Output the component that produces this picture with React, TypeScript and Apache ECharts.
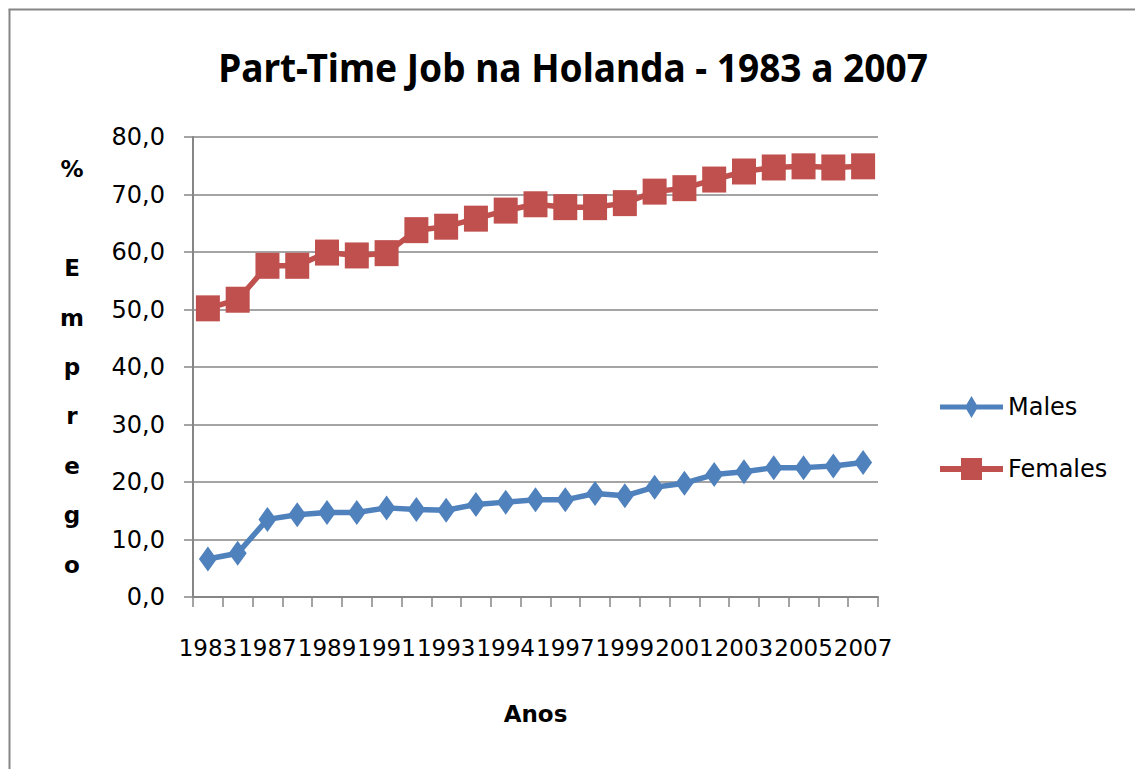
import React, { useEffect, useRef } from "react";
import * as echarts from "echarts";

const titleText = "Part-Time Job na Holanda - 1983 a 2007";
const years = ["1983","1985","1987","1988","1989","1990","1991","1992","1993","1994","1994","1996","1997","1998","1999","2000","2001","2002","2003","2004","2005","2006","2007"];
const males = [6.6,7.6,13.5,14.3,14.7,14.7,15.5,15.2,15.1,16.1,16.5,16.9,16.9,18.0,17.6,19.1,19.8,21.3,21.8,22.5,22.5,22.8,23.4];
const females = [50.2,51.7,57.6,57.6,59.9,59.4,59.8,63.8,64.4,65.8,67.2,68.3,67.8,67.8,68.5,70.5,71.1,72.6,74.0,74.7,74.9,74.7,74.9];
const yTickLabels = ["0,0","10,0","20,0","30,0","40,0","50,0","60,0","70,0","80,0"];
const yName = "%\n\nE\nm\np\nr\ne\ng\no";
const xName = "Anos";

const BLUE = "#4F81BD";
const RED = "#C0504D";
const GRAY = "#868686";
const FONT = '"DejaVu Sans"';

const malesIcon = "path://M0,8.5H63V13.5H0Z M31.5,0L38,11L31.5,22L25,11Z";
const femalesIcon = "path://M0,8H63V14H0Z M21,0H42V22H21Z";

export default function App() {
  const ref = useRef<HTMLDivElement>(null);
  useEffect(() => {
    if (!ref.current) return;
    const chart = echarts.init(ref.current, undefined, { renderer: "svg" });

    let sx = 0.8;
    try {
      const ctx = document.createElement("canvas").getContext("2d");
      if (ctx) {
        ctx.font = 'bold 40px "Noto Sans"';
        const w = ctx.measureText(titleText).width;
        if (w > 0) sx = 710 / w;
      }
    } catch (e) {}

    chart.setOption({
      animation: false,
      backgroundColor: "#ffffff",
      graphic: [
        {
          type: "line",
          silent: true,
          shape: { x1: 9.5, y1: 9.5, x2: 9.5, y2: 769 },
          style: { stroke: GRAY, lineWidth: 2 },
        },
        {
          type: "line",
          silent: true,
          shape: { x1: 8.5, y1: 9.5, x2: 1135, y2: 9.5 },
          style: { stroke: GRAY, lineWidth: 2 },
        },
        {
          type: "text",
          x: 573,
          y: 66,
          scaleX: sx,
          style: {
            text: titleText,
            fontSize: 40,
            fontWeight: "bold",
            fontFamily: '"Noto Sans"',
            fill: "#000",
            align: "center",
            verticalAlign: "middle",
          },
        },
      ],
      grid: { left: 193, top: 137, right: 257, bottom: 172, containLabel: false },
      legend: {
        orient: "vertical",
        left: 935,
        top: 390,
        itemWidth: 63,
        itemHeight: 22,
        itemGap: 38,
        itemTextGap: 5,
        itemStyle: { borderWidth: 0 },
        textStyle: { fontSize: 24, fontFamily: FONT, color: "#000", lineHeight: 22 },
        data: [
          { name: "Males", icon: malesIcon },
          { name: "Females", icon: femalesIcon },
        ],
      },
      xAxis: {
        type: "category",
        data: years,
        boundaryGap: true,
        axisLine: { lineStyle: { color: GRAY, width: 2 } },
        axisTick: { show: true, interval: 0, length: 10, lineStyle: { color: GRAY, width: 1.5 } },
        axisLabel: { interval: 1, margin: 39, fontSize: 23, fontFamily: FONT, color: "#000", lineHeight: 23 },
        splitLine: { show: false },
        name: xName,
        nameLocation: "middle",
        nameGap: 105,
        nameTextStyle: { fontSize: 23, fontWeight: "bold", fontFamily: FONT, color: "#000", lineHeight: 24 },
      },
      yAxis: {
        type: "value",
        min: 0,
        max: 80,
        interval: 10,
        axisLine: { show: true, lineStyle: { color: GRAY, width: 2 } },
        axisTick: { show: true, length: 9, lineStyle: { color: GRAY, width: 1.5 } },
        axisLabel: {
          margin: 28,
          fontSize: 24,
          fontFamily: FONT,
          color: "#000",
          formatter: (v: number) => yTickLabels[Math.round(v / 10)] ?? String(v),
        },
        splitLine: { show: true, lineStyle: { color: GRAY, width: 1.5 } },
        name: yName,
        nameLocation: "middle",
        nameGap: 121,
        nameRotate: 0,
        nameTextStyle: {
          fontSize: 23,
          fontWeight: "bold",
          fontFamily: FONT,
          color: "#000",
          align: "center",
          lineHeight: 49.4,
          padding: [8, 0, 0, 0],
        },
      },
      series: [
        {
          name: "Males",
          type: "line",
          data: males,
          symbol: "diamond",
          symbolSize: [18, 25],
          showSymbol: true,
          showAllSymbol: true,
          lineStyle: { width: 5.5, color: BLUE },
          itemStyle: { color: BLUE },
          z: 2,
        },
        {
          name: "Females",
          type: "line",
          data: females,
          symbol: "rect",
          symbolSize: [24, 26],
          showSymbol: true,
          showAllSymbol: true,
          lineStyle: { width: 5.5, color: RED },
          itemStyle: { color: RED },
          z: 3,
        },
      ],
    });
    return () => chart.dispose();
  }, []);
  return (
    <div
      ref={ref}
      style={{ position: "absolute", left: 0, top: 0, width: 1135, height: 769 }}
    />
  );
}
